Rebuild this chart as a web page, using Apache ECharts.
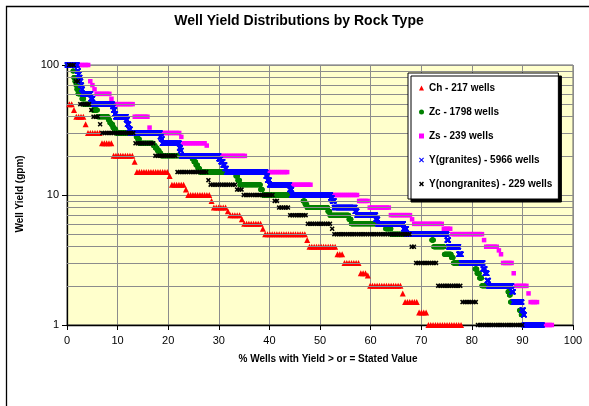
<!DOCTYPE html>
<html>
<head>
<meta charset="utf-8">
<script src="https://cdn.jsdelivr.net/npm/echarts@6/dist/echarts.min.js"></script>
<style>
  html, body { margin: 0; padding: 0; background: #fff; }
  #chart { width: 589px; height: 406px; }
</style>
</head>
<body>
<div id="chart"></div>
<script>
// Well yield frequency tables: reported yield (gpm) and number of wells at that yield,
// listed from the highest yield down. Wells below 1 gpm fall off the log axis.
const rockTypes  = ['Ch', 'Zc', 'Zs', 'Y(granites)', 'Y(nongranites)'];
const wellTotals = [217, 1798, 239, 5966, 229];

const chYield = [50, 45, 40, 35, 30, 25, 20, 18, 15, 14, 12, 11, 10, 9, 8, 7.5, 7, 6.5, 6, 5.5, 5, 4.5, 4, 3.5, 3, 2.5, 2.4, 2, 1.75, 1.5, 1.25, 1];
const chWells = [2, 1, 4, 1, 6, 5, 9, 1, 14, 1, 6, 1, 10, 1, 6, 1, 5, 1, 8, 1, 18, 1, 12, 3, 7, 3, 1, 14, 1, 6, 4, 15];

const zcYield = [100, 90, 80, 75, 70, 65, 60, 55, 50, 45, 40, 38, 36, 35, 33, 32, 30, 28, 27, 25, 24, 23, 22, 21, 20, 19, 18, 17, 16, 15, 14, 13, 12, 11, 10, 9, 8.5, 8, 7.5, 7, 6.5, 6, 5.5, 5, 4.5, 4, 3.5, 3.3, 3, 2.7, 2.5, 2.3, 2, 1.8, 1.7, 1.5, 1.3, 1.2, 1];
const zcWells = [20, 3, 4, 4, 3, 4, 14, 7, 31, 18, 38, 5, 5, 6, 5, 6, 72, 5, 7, 49, 7, 7, 7, 6, 111, 6, 7, 7, 7, 128, 7, 7, 74, 7, 144, 7, 7, 74, 7, 68, 8, 122, 20, 144, 7, 38, 25, 7, 77, 7, 9, 8, 93, 5, 4, 32, 6, 5, 27];

const zsYield = [100, 75, 70, 65, 60, 55, 50, 40, 33, 30, 28, 25, 24, 20, 15, 12, 10, 9, 8, 7, 6.5, 6, 5.5, 5, 4.5, 4, 3.75, 3.5, 3, 2.5, 2, 1.75, 1.5, 1];
const zsWells = [10, 1, 1, 1, 7, 1, 10, 7, 1, 14, 1, 11, 1, 18, 20, 11, 22, 5, 10, 10, 1, 14, 4, 15, 1, 6, 1, 1, 5, 1, 6, 1, 4, 7];

const ygYield = [100, 90, 85, 80, 75, 70, 65, 60, 55, 50, 48, 45, 42, 40, 38, 35, 32, 30, 28, 27, 25, 23, 22, 20, 19, 18, 17, 16, 15, 14, 13, 12, 11, 10, 9.5, 9, 8, 7.5, 7, 6.5, 6, 5.5, 5, 4.5, 4, 3.5, 3, 2.7, 2.5, 2.2, 2, 1.8, 1.5, 1.3, 1.2, 1];
const ygWells = [120, 12, 10, 10, 10, 10, 10, 98, 24, 233, 12, 12, 12, 125, 12, 18, 18, 352, 12, 12, 202, 12, 12, 442, 24, 24, 23, 18, 466, 18, 23, 239, 24, 459, 18, 24, 245, 23, 221, 24, 304, 36, 477, 18, 120, 30, 256, 24, 24, 18, 274, 18, 101, 18, 12, 209];

const ynYield = [100, 75, 50, 45, 40, 35, 30, 25, 20, 15, 13, 12, 11, 10, 9, 8, 7, 6, 5.5, 5, 4, 3, 2, 1.5, 1];
const ynWells = [3, 2, 5, 1, 3, 1, 15, 9, 10, 14, 1, 12, 3, 14, 2, 5, 8, 11, 1, 35, 2, 10, 11, 7, 21];

const minorGridYields = [2, 3, 4, 5, 6, 7, 8, 9, 20, 30, 40, 50, 60, 70, 80, 90];

const FONT = '"Liberation Sans", Arial, sans-serif';

// Each well is ranked by yield (highest first); its x value is the percent of
// all wells of that rock type with a yield greater than or equal to its own.
function exceedancePoints(yields, wells, total) {
  const pts = [];
  let rank = 0;
  yields.forEach((y, k) => {
    for (let j = 0; j < wells[k]; j++) {
      rank += 1;
      pts.push([rank / total * 100, y]);
    }
  });
  return pts;
}

const tables = [
  [chYield, chWells],
  [zcYield, zcWells],
  [zsYield, zsWells],
  [ygYield, ygWells],
  [ynYield, ynWells]
];

const X_SHAPE = 'path://M0,1.5L1.5,0L5,3.5L8.5,0L10,1.5L6.5,5L10,8.5L8.5,10L5,6.5L1.5,10L0,8.5L3.5,5Z';
const X_BOLD  = 'path://M0,2.2L2.2,0L5,2.8L7.8,0L10,2.2L7.2,5L10,7.8L7.8,10L5,7.2L2.2,10L0,7.8L2.8,5Z';

const markerStyles = [
  { symbol: 'triangle', size: 6,   color: '#FF0000' },
  { symbol: 'circle',   size: 5,   color: '#008000' },
  { symbol: 'rect',     size: 4.5, color: '#FF00FF' },
  { symbol: X_SHAPE,    size: 5.5, color: '#0000FF' },
  { symbol: X_BOLD,     size: 5,   color: '#000000' }
];

const legendNames = rockTypes.map((r, i) => r + ' - ' + wellTotals[i] + ' wells');

const series = [{
  // horizontal minor gridlines of the log axis (2..9 within each decade)
  type: 'line',
  data: [],
  silent: true,
  z: 1,
  markLine: {
    silent: true,
    z: 1,
    symbol: 'none',
    animation: false,
    label: { show: false },
    lineStyle: { color: '#8c8c8c', width: 1, type: 'solid' },
    emphasis: { disabled: true },
    data: minorGridYields.map(v => ({ yAxis: v }))
  }
}];

tables.forEach(([yields, wells], i) => {
  const m = markerStyles[i];
  series.push({
    name: legendNames[i],
    type: 'scatter',
    data: exceedancePoints(yields, wells, wellTotals[i]),
    symbol: m.symbol,
    symbolSize: m.size,
    itemStyle: { color: m.color, opacity: 1 },
    large: false,
    progressive: 0,
    clip: true,
    silent: true,
    z: 3
  });
});

const chart = echarts.init(document.getElementById('chart'), null, { renderer: 'canvas' });
chart.setOption({
  animation: false,
  backgroundColor: '#ffffff',
  grid: {
    left: 67, top: 65, width: 506, height: 260,
    show: true,
    backgroundColor: '#FFFFCC',
    borderColor: '#666666',
    borderWidth: 1
  },
  xAxis: {
    type: 'value',
    min: 0, max: 100, interval: 10,
    axisLine: { show: true, onZero: false, lineStyle: { color: '#000', width: 1.3 } },
    axisTick: { show: true, length: 5, lineStyle: { color: '#000' } },
    axisLabel: { fontFamily: FONT, fontSize: 11, color: '#000', margin: 10 },
    splitLine: { show: true, lineStyle: { color: '#8c8c8c', width: 1 } }
  },
  yAxis: {
    type: 'log',
    logBase: 10,
    min: 1, max: 100,
    axisLine: { show: true, onZero: false, lineStyle: { color: '#000', width: 1.3 } },
    axisTick: { show: true, length: 5, lineStyle: { color: '#000' } },
    axisLabel: { fontFamily: FONT, fontSize: 11, color: '#000', margin: 8 },
    splitLine: { show: true, lineStyle: { color: '#8c8c8c', width: 1 } }
  },
  legend: {
    data: legendNames,
    orient: 'vertical',
    left: 408, top: 73,
    padding: [9, 6, 9, 11],
    itemGap: 12,
    itemWidth: 5, itemHeight: 5,
    selectedMode: false,
    z: 10,
    backgroundColor: '#ffffff',
    borderColor: '#000000',
    borderWidth: 1,
    shadowColor: '#000000',
    shadowBlur: 0,
    shadowOffsetX: 3,
    shadowOffsetY: 3,
    textStyle: { fontFamily: FONT, fontSize: 10, fontWeight: 'bold', color: '#000', lineHeight: 12 }
  },
  graphic: [
    {
      type: 'rect', silent: true, z: -10,
      shape: { x: 6.5, y: 6.5, width: 700, height: 500 },
      style: { fill: 'none', stroke: '#000', lineWidth: 1.3 }
    },
    {
      type: 'text', silent: true, x: 299, y: 21,
      style: { text: 'Well Yield Distributions by Rock Type', font: 'bold 14px ' + FONT, fill: '#000', align: 'center', verticalAlign: 'middle' }
    },
    {
      type: 'text', silent: true, x: 328, y: 359,
      style: { text: '% Wells with Yield > or = Stated Value', font: 'bold 10px ' + FONT, fill: '#000', align: 'center', verticalAlign: 'middle' }
    },
    {
      type: 'text', silent: true, x: 20, y: 194, rotation: Math.PI / 2,
      style: { text: 'Well Yield (gpm)', font: 'bold 10px ' + FONT, fill: '#000', align: 'center', verticalAlign: 'middle' }
    }
  ],
  series: series
});
</script>
</body>
</html>
